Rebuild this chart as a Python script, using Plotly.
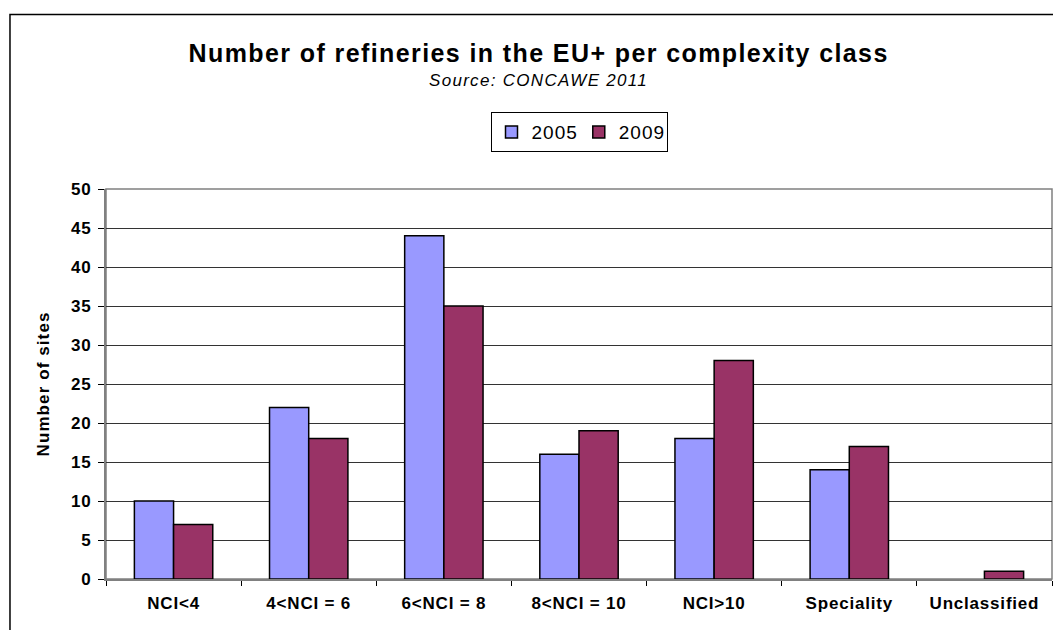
import plotly.graph_objects as go

categories = ["NCI<4", "4<NCI = 6", "6<NCI = 8", "8<NCI = 10", "NCI>10", "Speciality", "Unclassified"]
series_names = ["2005", "2009"]
values_2005 = [10, 22, 44, 16, 18, 14, 0]
values_2009 = [7, 18, 35, 19, 28, 17, 1]
y_ticks = [0, 5, 10, 15, 20, 25, 30, 35, 40, 45, 50]

colors = ["#9999FF", "#993366"]
FONT = "Liberation Sans, Arial, sans-serif"

fig = go.Figure()
for name, vals, col in zip(series_names, [values_2005, values_2009], colors):
    fig.add_trace(go.Bar(
        x=categories,
        y=[v if v else None for v in vals],
        name=name,
        marker=dict(color=col, line=dict(color="#000000", width=1.5)),
    ))

fig.update_layout(
    width=1053, height=630,
    margin=dict(l=106, r=1, t=189, b=51),
    paper_bgcolor="white", plot_bgcolor="white",
    barmode="group", bargap=0.42, bargroupgap=0,
    font=dict(family=FONT, color="#000000"),
    showlegend=True,
    legend=dict(
        orientation="h", x=0.5, xanchor="center", y=1.146, yanchor="middle",
        bordercolor="#000000", borderwidth=1, bgcolor="white",
        font=dict(size=19, family=FONT), itemwidth=30, tracegroupgap=0,
    ),
    annotations=[
        dict(text="<b>Number of refineries in the EU+ per complexity class</b>",
             xref="paper", yref="paper", x=0.4567, y=1.349, xanchor="center", yanchor="middle",
             showarrow=False, font=dict(size=25, family=FONT)),
        dict(text="<i>Source: CONCAWE 2011</i>",
             xref="paper", yref="paper", x=0.4567, y=1.279, xanchor="center", yanchor="middle",
             showarrow=False, font=dict(size=17, family=FONT)),
    ],
    shapes=[
        dict(type="rect", xref="paper", yref="paper", x0=-0.1015, x1=1.2, y0=-0.3, y1=1.4474,
             line=dict(color="#000000", width=1.5), fillcolor="rgba(0,0,0,0)", layer="below"),
        dict(type="rect", xref="paper", yref="paper", x0=0, x1=1, y0=0, y1=1,
             line=dict(color="#808080", width=1.5), fillcolor="rgba(0,0,0,0)", layer="below"),
    ],
)

fig.update_xaxes(
    type="category", showline=True, linecolor="#808080", linewidth=2,
    ticks="outside", tickson="boundaries", ticklen=5, tickcolor="#000000",
    tickfont=dict(size=17, family=FONT), showgrid=False, ticklabelstandoff=8,
)
fig.update_xaxes(tickvals=categories, ticktext=["<b>%s</b>" % c for c in categories])
fig.update_yaxes(
    range=[0, 50], tickvals=y_ticks, ticktext=["<b>%d</b>" % t for t in y_ticks],
    showline=True, linecolor="#808080", linewidth=2,
    ticks="outside", ticklen=6, tickcolor="#000000",
    tickfont=dict(size=17, family=FONT), ticklabelstandoff=3,
    showgrid=True, gridcolor="#333333", gridwidth=1, zeroline=False,
    title=dict(text="<b>Number of sites</b>", font=dict(size=17, family=FONT), standoff=19),
)

post = """
var gd = document.getElementById('{plot_id}');
function sp(sel, v) { gd.querySelectorAll(sel).forEach(function(e){ e.style.letterSpacing = v; }); }
var ann = gd.querySelectorAll('.annotation-text');
if (ann[0]) ann[0].style.letterSpacing = '1.4px';
if (ann[1]) ann[1].style.letterSpacing = '1.3px';
sp('.xtick text', '0.8px');
sp('.ytick text', '0.8px');
sp('.ytitle', '1.1px');
sp('.legendtext', '1.0px');
"""

fig.write_html("out.html", post_script=post)
